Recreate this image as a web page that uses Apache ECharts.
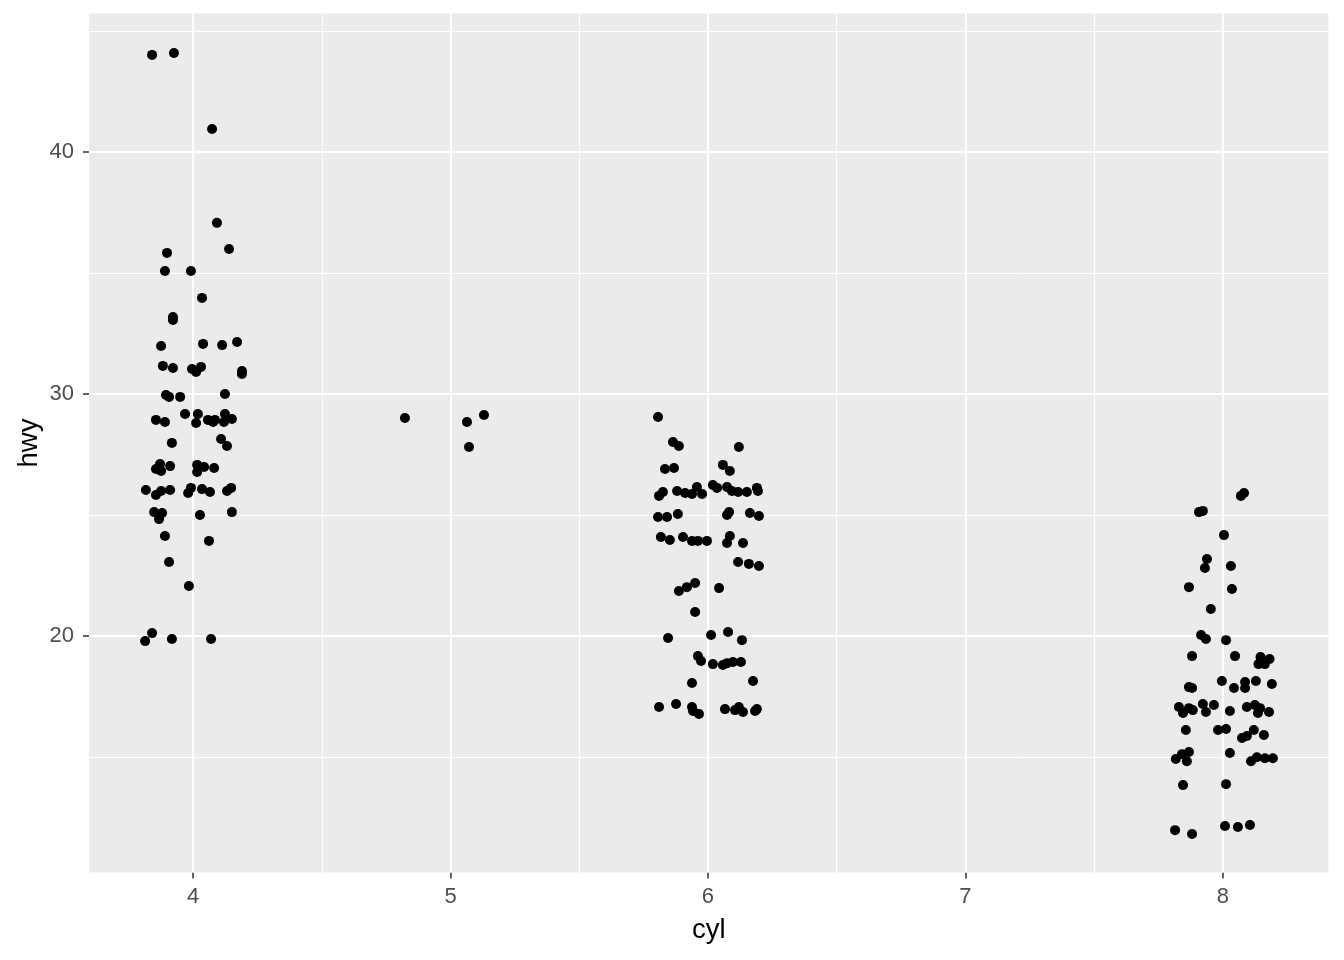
<!DOCTYPE html>
<html>
<head>
<meta charset="utf-8">
<script src="https://cdn.jsdelivr.net/npm/echarts@6/dist/echarts.min.js"></script>
<style>
  html, body { margin: 0; padding: 0; background: #fff; }
  #chart { width: 1344px; height: 960px; }
</style>
</head>
<body>
<div id="chart"></div>
<script>
  // axis breaks
  var cylTicks = [4, 5, 6, 7, 8];
  var cylMinor = [4.5, 5.5, 6.5, 7.5];
  var hwyTicks = [20, 30, 40];
  var hwyMinor = [15, 25, 35, 45];

  // jittered points [cyl, hwy]
  var cyl4 = [
    [3.841, 44.01], [3.926, 44.09], [4.074, 40.95], [4.093, 37.07], [4.140, 35.99],
    [3.899, 35.83], [3.891, 35.08], [3.992, 35.08], [4.035, 33.97], [3.922, 33.18],
    [3.922, 33.06], [3.876, 31.98], [4.039, 32.07], [4.113, 32.02], [4.171, 32.15],
    [3.883, 31.16], [3.922, 31.07], [3.996, 31.03], [4.012, 30.91], [4.031, 31.12],
    [4.190, 30.95], [4.190, 30.83], [3.895, 29.96], [3.907, 29.88], [3.950, 29.88],
    [4.124, 30.00], [3.856, 28.93], [3.891, 28.84], [3.969, 29.17], [4.019, 29.17],
    [4.012, 28.80], [4.058, 28.93], [4.078, 28.84], [4.085, 28.93], [4.124, 29.17],
    [4.120, 28.84], [4.151, 28.97], [3.918, 27.98], [4.109, 28.14], [4.132, 27.85],
    [3.872, 27.11], [3.856, 26.90], [3.876, 26.82], [3.911, 27.02], [4.016, 27.07],
    [4.016, 26.78], [4.043, 26.98], [4.082, 26.94], [3.817, 26.03], [3.856, 25.83],
    [3.876, 25.99], [3.911, 26.03], [3.981, 25.91], [3.992, 26.12], [4.035, 26.07],
    [4.066, 25.95], [4.132, 25.99], [4.148, 26.12], [3.849, 25.12], [3.880, 25.08],
    [3.868, 24.83], [4.027, 25.00], [4.151, 25.12], [3.891, 24.13], [4.062, 23.93],
    [3.907, 23.06], [3.984, 22.07], [3.841, 20.12], [3.814, 19.79], [3.918, 19.88],
    [4.070, 19.88]
  ];
  var cyl5 = [
    [4.823, 29.01], [5.130, 29.13], [5.064, 28.84], [5.072, 27.81]
  ];
  var cyl6 = [
    [5.806, 29.05], [5.864, 28.02], [5.887, 27.85], [6.120, 27.81], [5.833, 26.90],
    [5.868, 26.94], [6.058, 27.07], [6.085, 26.82], [5.810, 25.79], [5.825, 25.95],
    [5.880, 25.99], [5.911, 25.91], [5.938, 25.87], [5.957, 26.16], [5.977, 25.87],
    [6.019, 26.24], [6.035, 26.12], [6.074, 26.16], [6.093, 25.99], [6.117, 25.95],
    [6.151, 25.95], [6.190, 26.12], [6.194, 25.99], [5.806, 24.92], [5.841, 24.92],
    [5.883, 25.04], [6.082, 25.12], [6.074, 25.00], [6.163, 25.08], [6.198, 24.96],
    [5.817, 24.09], [5.852, 23.97], [5.903, 24.09], [5.938, 23.93], [5.961, 23.93],
    [5.996, 23.93], [6.085, 24.13], [6.074, 23.84], [6.136, 23.84], [6.117, 23.06],
    [6.159, 22.98], [6.198, 22.89], [5.887, 21.86], [5.918, 22.02], [5.950, 22.19],
    [6.043, 21.98], [5.950, 20.99], [5.845, 19.92], [6.012, 20.04], [6.078, 20.17],
    [6.132, 19.83], [5.961, 19.17], [5.973, 18.97], [6.019, 18.84], [6.058, 18.80],
    [6.074, 18.88], [6.097, 18.93], [6.128, 18.93], [5.938, 18.06], [6.175, 18.14],
    [5.810, 17.07], [5.876, 17.19], [5.938, 17.07], [5.942, 16.90], [5.965, 16.78],
    [6.066, 16.98], [6.105, 16.94], [6.120, 17.07], [6.136, 16.86], [6.190, 16.98],
    [6.183, 16.90]
  ];
  var cyl8 = [
    [8.070, 25.79], [8.082, 25.91], [7.907, 25.12], [7.922, 25.17], [8.004, 24.17],
    [7.938, 23.18], [7.930, 22.81], [8.031, 22.89], [7.868, 22.02], [8.035, 21.94],
    [7.953, 21.12], [7.915, 20.04], [7.934, 19.88], [8.012, 19.83], [7.880, 19.17],
    [8.047, 19.17], [8.146, 19.13], [8.181, 19.05], [8.138, 18.84], [8.163, 18.84],
    [7.996, 18.14], [7.868, 17.89], [7.880, 17.85], [8.043, 17.85], [8.086, 18.10],
    [8.086, 17.85], [8.128, 18.14], [8.190, 18.02], [7.829, 17.07], [7.845, 16.82],
    [7.868, 17.02], [7.883, 16.94], [7.922, 17.19], [7.934, 16.86], [7.965, 17.15],
    [8.027, 16.90], [8.093, 17.07], [8.124, 17.15], [8.136, 16.82], [8.144, 17.02],
    [8.179, 16.86], [7.856, 16.12], [7.981, 16.12], [8.012, 16.16], [8.074, 15.79],
    [8.093, 15.87], [8.120, 16.12], [8.159, 15.91], [7.817, 14.92], [7.841, 15.12],
    [7.868, 15.21], [7.860, 14.83], [8.027, 15.17], [8.109, 14.83], [8.132, 14.99],
    [8.163, 14.95], [8.194, 14.95], [7.845, 13.84], [8.012, 13.88], [7.814, 11.98],
    [7.880, 11.82], [8.008, 12.15], [8.058, 12.11], [8.105, 12.19]
  ];

  var chart = echarts.init(document.getElementById('chart'));

  // panel grid lines drawn as markLines (major white, minor thinner)
  var gridLines = [];
  cylMinor.forEach(function (v) { gridLines.push({ xAxis: v, lineStyle: { width: 1 } }); });
  hwyMinor.forEach(function (v) { gridLines.push({ yAxis: v, lineStyle: { width: 1 } }); });
  cylTicks.forEach(function (v) { gridLines.push({ xAxis: v, lineStyle: { width: 2 } }); });
  hwyTicks.forEach(function (v) { gridLines.push({ yAxis: v, lineStyle: { width: 2 } }); });

  function pts(data) {
    return {
      type: 'scatter',
      data: data,
      symbol: 'circle',
      symbolSize: 10,
      itemStyle: { color: '#000', opacity: 1 },
      z: 5
    };
  }

  var font = "'Liberation Sans', Arial, sans-serif";

  chart.setOption({
    animation: false,
    grid: {
      left: 89,
      right: 15.5,
      top: 13.5,
      bottom: 87.5,
      show: true,
      backgroundColor: '#EBEBEB',
      borderWidth: 0
    },
    xAxis: {
      type: 'value',
      min: 3.596,
      max: 8.41,
      name: 'cyl',
      nameLocation: 'middle',
      nameGap: 44,
      nameMoveOverlap: false,
      nameTextStyle: { color: '#000', fontSize: 27.5, fontFamily: font },
      axisLine: { show: false },
      axisTick: { show: true, customValues: cylTicks, length: 6, lineStyle: { color: '#333', width: 1.5 } },
      axisLabel: { customValues: cylTicks, color: '#4D4D4D', fontSize: 22, fontFamily: font, margin: 13 },
      splitLine: { show: false }
    },
    yAxis: {
      type: 'value',
      min: 10.23,
      max: 45.72,
      name: 'hwy',
      nameLocation: 'middle',
      nameRotate: 90,
      nameGap: 46,
      nameMoveOverlap: false,
      nameTextStyle: { color: '#000', fontSize: 27.5, fontFamily: font },
      axisLine: { show: false },
      axisTick: { show: true, customValues: hwyTicks, length: 6, lineStyle: { color: '#333', width: 1.5 } },
      axisLabel: { customValues: hwyTicks, color: '#4D4D4D', fontSize: 22, fontFamily: font, margin: 15 },
      splitLine: { show: false }
    },
    series: [
      {
        type: 'scatter',
        data: [],
        silent: true,
        z: 1,
        markLine: {
          silent: true,
          symbol: ['none', 'none'],
          label: { show: false },
          emphasis: { disabled: true },
          lineStyle: { color: '#FFFFFF', type: 'solid', opacity: 1 },
          data: gridLines
        }
      },
      pts(cyl4),
      pts(cyl5),
      pts(cyl6),
      pts(cyl8)
    ]
  });
</script>
</body>
</html>
